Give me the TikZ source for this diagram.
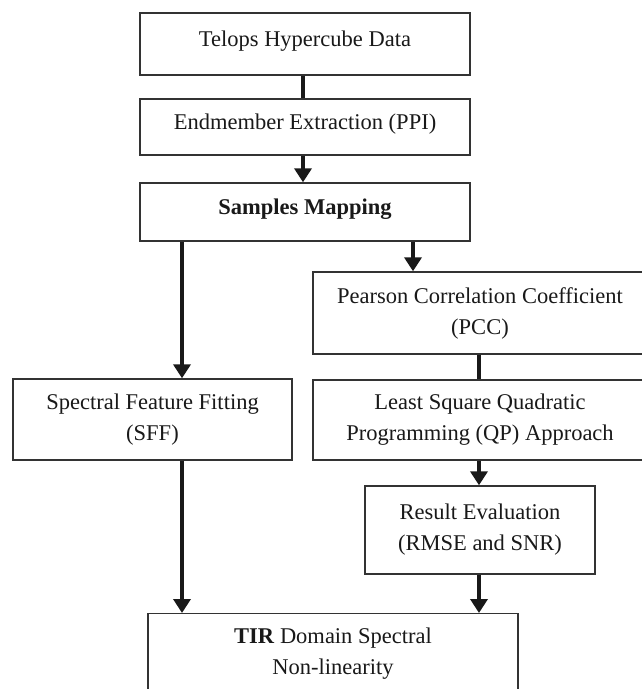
\documentclass[tikz,border=0pt]{standalone}
\usepackage{fontspec}
\setmainfont{Liberation Serif}
\usetikzlibrary{arrows.meta}
\begin{document}
\begin{tikzpicture}[x=1pt,y=-1pt,
  box/.style={draw=black!80, line width=1.4pt, rectangle, align=center, inner sep=0pt,
    font=\fontsize{22.5}{31}\selectfont, text=black!90},
  onebox/.style={box, text height=16pt, text depth=12pt},
  conn/.style={line width=4.5pt, draw=black!90},
  arr/.style={conn, -{Triangle[width=17pt,length=14pt]}}]
\useasboundingbox (0,0) rectangle (642,689);
\clip (0,0) rectangle (642,689);
\fill[white] (0,0) rectangle (642,689);
% boxes
\node[onebox, minimum width=330pt, minimum height=62pt] (b1) at (305,44) {Telops Hypercube Data};
\node[onebox, minimum width=330pt, minimum height=56pt] (b2) at (305,127) {Endmember Extraction (PPI)};
\node[onebox, minimum width=330pt, minimum height=58pt] (b3) at (305,212) {\textbf{Samples Mapping}};
\node[box, minimum width=334pt, minimum height=82pt] (pcc) at (480,313) {Pearson Correlation Coefficient\\(PCC)};
\node[box, minimum width=279pt, minimum height=81pt] (sff) at (152.5,419.5) {Spectral Feature Fitting\\(SFF)};
\node[box, minimum width=334pt, minimum height=80pt] (qp) at (480,420) {Least Square Quadratic\\Programming (QP) Approach};
\node[box, minimum width=230pt, minimum height=88pt] (res) at (480,530) {Result Evaluation\\(RMSE and SNR)};
\node[box, anchor=north, minimum width=370pt, inner ysep=14pt] (tir) at (333,613) {\textbf{TIR} Domain Spectral\\Non-linearity};
% connector columns
\coordinate (xm) at (303,0);
\coordinate (xl) at (182,0);
\coordinate (xr) at (413,0);
\coordinate (xq) at (479,0);
% connectors
\draw[conn] (b1.south -| xm) -- (b2.north -| xm);
\draw[arr] (b2.south -| xm) -- (b3.north -| xm);
\draw[arr] (b3.south -| xl) -- (sff.north -| xl);
\draw[arr] (b3.south -| xr) -- (pcc.north -| xr);
\draw[conn] (pcc.south -| xq) -- (qp.north -| xq);
\draw[arr] (qp.south -| xq) -- (res.north -| xq);
\draw[arr] (sff.south -| xl) -- (tir.north -| xl);
\draw[arr] (res.south -| xq) -- (tir.north -| xq);
\end{tikzpicture}
\end{document}
